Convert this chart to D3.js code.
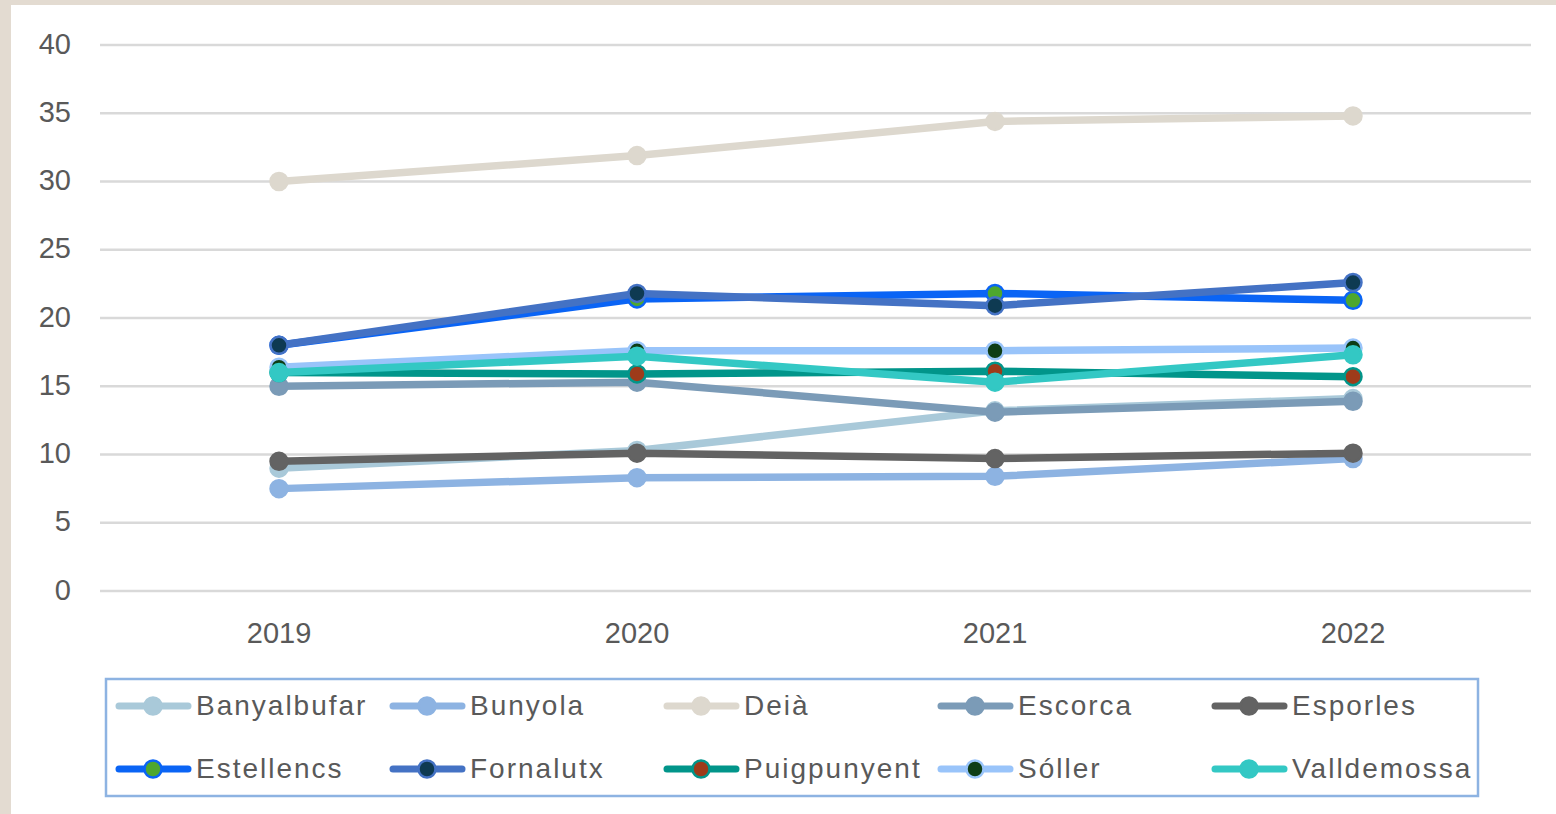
<!DOCTYPE html>
<html><head><meta charset="utf-8">
<script src="https://cdn.jsdelivr.net/npm/d3@7"></script>
<style>body{margin:0;background:#fff;}svg{display:block;}</style>
</head><body>
<svg id="c" width="1556" height="814"></svg>
<script>
const years = ["2019","2020","2021","2022"];
const yTicks = [0,5,10,15,20,25,30,35,40];
const seriesNames = ["Banyalbufar","Bunyola","Deià","Escorca","Esporles","Estellencs","Fornalutx","Puigpunyent","Sóller","Valldemossa"];
const banyalbufar = [9.0, 10.3, 13.2, 14.1];
const bunyola = [7.5, 8.3, 8.4, 9.7];
const deia = [30.0, 31.9, 34.4, 34.8];
const escorca = [15.0, 15.3, 13.1, 13.9];
const esporles = [9.5, 10.1, 9.7, 10.1];
const estellencs = [18.0, 21.4, 21.8, 21.3];
const fornalutx = [18.0, 21.8, 20.9, 22.6];
const puigpunyent = [16.0, 15.9, 16.1, 15.7];
const soller = [16.4, 17.6, 17.6, 17.8];
const valldemossa = [16.0, 17.2, 15.3, 17.3];
const seriesValues = [banyalbufar,bunyola,deia,escorca,esporles,estellencs,fornalutx,puigpunyent,soller,valldemossa];
const lineColors = ["#a9c9d9","#8db3e2","#ddd8ce","#7b9bb7","#636363","#0a64f5","#4472c4","#01958a","#99c4fa","#33c8c4"];
const markerFills = ["#a9c9d9","#8db3e2","#ddd8ce","#7b9bb7","#636363","#4ea72e","#0e3a52","#9e3b1a","#0e3d16","#33c8c4"];

const svg = d3.select("#c");
svg.append("rect").attr("width",1556).attr("height",814).attr("fill","#e3dbd1");
svg.append("rect").attr("x",11).attr("y",5).attr("width",1545).attr("height",809).attr("fill","#fff");

const x = d3.scaleBand().domain(years).range([100,1532]);
const y = d3.scaleLinear().domain([0,40]).range([591,45]);

const g = svg.append("g");
g.selectAll("line.grid").data(yTicks).enter().append("line")
  .attr("x1",100).attr("x2",1531).attr("y1",d=>y(d)).attr("y2",d=>y(d))
  .attr("stroke","#d9d9d9").attr("stroke-width",2.5);

const yAxis = svg.append("g").attr("transform","translate(71,0)")
  .call(d3.axisLeft(y).tickValues(yTicks).tickSize(0).tickPadding(0));
yAxis.select(".domain").remove();
yAxis.selectAll("text").attr("font-family","Liberation Sans, Arial, sans-serif").attr("font-size",29).attr("fill","#595959").attr("dy","0.28em");

const xAxis = svg.append("g").attr("transform","translate(0,621)")
  .call(d3.axisBottom(x).tickSize(0).tickPadding(0));
xAxis.select(".domain").remove();
xAxis.selectAll("text").attr("font-family","Liberation Sans, Arial, sans-serif").attr("font-size",29).attr("fill","#595959").attr("dy","0.75em");

const line = d3.line().x((d,i)=>x(years[i])+x.bandwidth()/2).y(d=>y(d));
seriesValues.forEach((vals,k)=>{
  const sg = svg.append("g");
  sg.append("path").attr("d",line(vals)).attr("fill","none").attr("stroke",lineColors[k]).attr("stroke-width",7.5).attr("stroke-linejoin","round").attr("stroke-linecap","round");
  sg.selectAll("circle").data(vals).enter().append("circle")
    .attr("cx",(d,i)=>x(years[i])+x.bandwidth()/2).attr("cy",d=>y(d)).attr("r",8.5)
    .attr("fill",markerFills[k]).attr("stroke",lineColors[k]).attr("stroke-width",2.5);
});

// legend
const lg = svg.append("g");
lg.append("rect").attr("x",106).attr("y",679).attr("width",1372).attr("height",117)
  .attr("fill","none").attr("stroke","#8db3e2").attr("stroke-width",2.5);
seriesNames.forEach((name,k)=>{
  const col = k%5, row = Math.floor(k/5);
  const lx = 116 + col*274, ly = 706 + row*63;
  lg.append("line").attr("x1",lx+3).attr("x2",lx+72).attr("y1",ly).attr("y2",ly)
    .attr("stroke",lineColors[k]).attr("stroke-width",7).attr("stroke-linecap","round");
  lg.append("circle").attr("cx",lx+37).attr("cy",ly).attr("r",8.5)
    .attr("fill",markerFills[k]).attr("stroke",lineColors[k]).attr("stroke-width",2.5);
  lg.append("text").attr("x",lx+80).attr("y",ly+9).text(name)
    .attr("font-family","Liberation Sans, Arial, sans-serif").attr("font-size",28)
    .attr("letter-spacing","2px").attr("fill","#595959");
});
</script>
</body></html>
